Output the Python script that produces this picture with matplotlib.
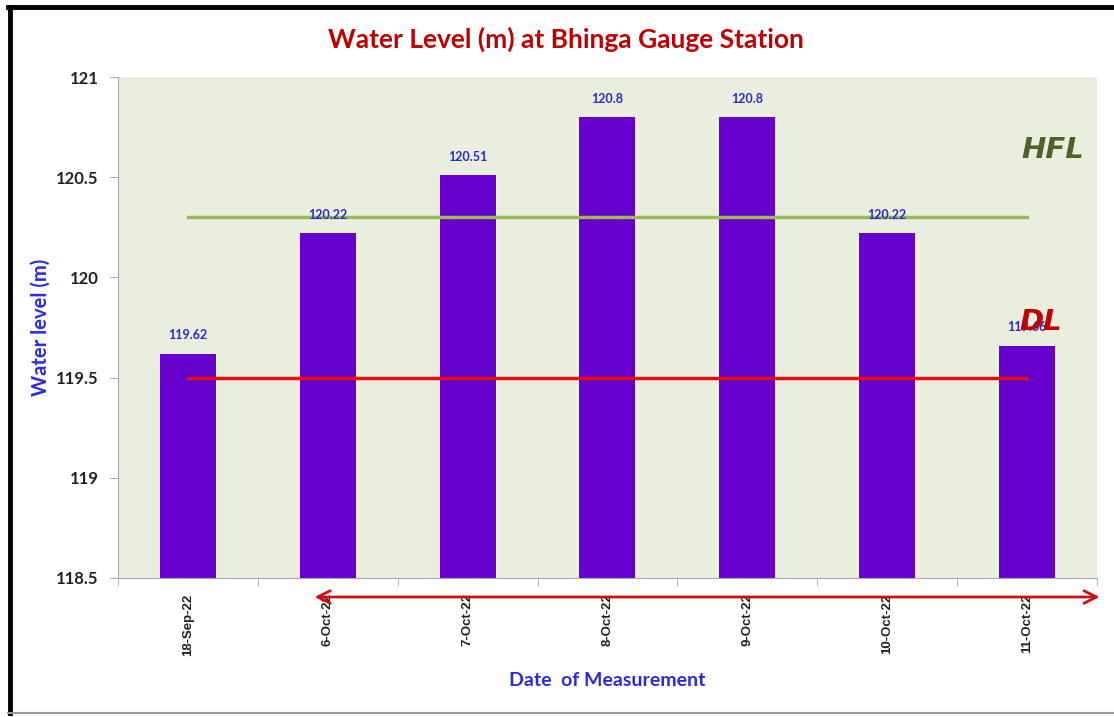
import matplotlib.pyplot as plt
import numpy as np
from matplotlib.lines import Line2D

dates = ["18-Sep-22", "6-Oct-22", "7-Oct-22", "8-Oct-22", "9-Oct-22", "10-Oct-22", "11-Oct-22"]
levels = [119.62, 120.22, 120.51, 120.8, 120.8, 120.22, 119.66]
hfl = 120.3
dl = 119.5
y_ticks = [118.5, 119, 119.5, 120, 120.5, 121]
y_tick_labels = ["118.5", "119", "119.5", "120", "120.5", "121"]

narrow = ["Lato", "DejaVu Sans"]

fig = plt.figure(figsize=(11.14, 7.17), dpi=100)
ax = fig.add_axes([0.1059, 0.1939, 0.8788, 0.6987])
ax.set_facecolor("#eaeedf")

x = np.arange(len(dates))
ax.bar(x, [v - 118.5 for v in levels], bottom=118.5, width=0.4, color="#6600cc", zorder=2)
ax.plot([x[0], x[-1]], [hfl, hfl], color="#9bbb59", lw=2.5, zorder=3)
ax.plot([x[0], x[-1]], [dl, dl], color="#e01010", lw=2.5, zorder=3)

for xi, v in zip(x, levels):
    ax.annotate(f"{v:g}", (xi, v), xytext=(0, 9), textcoords="offset points",
                ha="center", va="bottom", color="#2a2acc", fontsize=9,
                fontweight="bold", family=narrow, zorder=4)

ax.set_xlim(-0.5, len(dates) - 0.5)
ax.set_ylim(118.5, 121)
ax.set_yticks(y_ticks)
ax.set_yticklabels(y_tick_labels, fontsize=12, fontweight="bold", family=narrow, color="#222222")
ax.set_xticks(x)
ax.set_xticklabels(dates, rotation=90, fontsize=9.5, fontweight="bold",
                   family=["Liberation Sans", "DejaVu Sans"], color="#222222", va="top")
ax.set_xticks(np.arange(-0.5, len(dates), 1.0), minor=True)
ax.tick_params(axis="x", which="major", length=0, pad=11)
ax.tick_params(axis="x", which="minor", length=6, color="#aaaaaa")
ax.tick_params(axis="y", length=6, color="#aaaaaa", pad=8)

for side in ["top", "right"]:
    ax.spines[side].set_visible(False)
for side in ["left", "bottom"]:
    ax.spines[side].set_color("#aaaaaa")

ax.set_ylabel("Water level (m)", color="#2b2bdd", fontsize=14.5, fontweight="bold",
              family=narrow, labelpad=4)
ax.set_xlabel("Date  of Measurement", color="#2b2bdd", fontsize=14, fontweight="bold",
              family=narrow, labelpad=12)

fig.text(0.508, 0.945, "Water Level (m) at Bhinga Gauge Station", ha="center", va="center",
         color="#c00000", fontsize=19, fontweight="bold", family=narrow)

ax.text(0.955, 0.854, "HFL", transform=ax.transAxes, ha="center", va="center",
        color="#4f6228", fontsize=21, fontweight="bold", style="italic", zorder=5)
ax.text(0.943, 0.511, "DL", transform=ax.transAxes, ha="center", va="center",
        color="#c00000", fontsize=21, fontweight="bold", style="italic", zorder=5)

ax.annotate("", xy=(1.0055, -0.038), xytext=(0.198, -0.038), xycoords="axes fraction",
            textcoords="axes fraction",
            arrowprops=dict(arrowstyle="<->,head_length=0.9,head_width=0.45",
                            color="#cc1111", lw=2), annotation_clip=False)

# outer frame
fig.add_artist(Line2D([0.009, 0.009], [0.005, 0.99], color="black", lw=3.5))
fig.add_artist(Line2D([0.007, 1.0], [0.99, 0.99], color="black", lw=3.5))
fig.add_artist(Line2D([0.007, 1.0], [0.005, 0.005], color="#999999", lw=1.5))

fig.savefig("out.png", dpi=100)
